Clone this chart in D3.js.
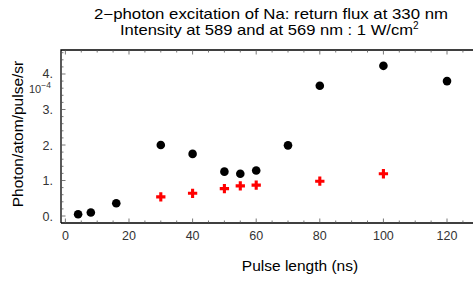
<!DOCTYPE html>
<html><head><meta charset="utf-8">
<script src="https://cdn.jsdelivr.net/npm/d3@7"></script>
<style>body{margin:0;background:#fff}svg{display:block;font-family:"Liberation Sans",Arial,sans-serif}</style>
</head><body>
<svg id="c" width="473" height="282"></svg>
<script>
// values in units of 1e-4 photon/atom/pulse/sr
const blackX = [4, 8, 16, 30, 40, 50, 55, 60, 70, 80, 100, 120];
const blackY = [0.05, 0.10, 0.36, 2.00, 1.75, 1.25, 1.19, 1.28, 1.99, 3.67, 4.23, 3.80];
const redX = [30, 40, 50, 55, 60, 80, 100];
const redY = [0.54, 0.64, 0.77, 0.85, 0.87, 0.98, 1.19];
const xTicks = [0, 20, 40, 60, 80, 100, 120];
const yTicks = [0, 1, 2, 3, 4];
const yTickLabels = ["0.", "1.", "2.", "3.", "4."];

const svg = d3.select("#c");
const L = 61, R = 475, T = 50, B = 223;
const x = d3.scaleLinear().domain([-1.38, 128.8]).range([L, R]);
const y = d3.scaleLinear().domain([-0.197, 4.676]).range([B, T]);

// frame
svg.append("path").attr("d", `M${L},${B}V${T}H${R}M${L},${B}H${R}`)
  .attr("fill","none").attr("stroke","#000").attr("stroke-width",1.3);

// x minor/major ticks (inward) bottom and top
const xMinor = d3.range(0, 126, 5);
xMinor.forEach(v => {
  const major = v % 20 === 0;
  const len = major ? 4.5 : 2.5;
  const px = x(v);
  svg.append("line").attr("x1",px).attr("x2",px).attr("y1",B).attr("y2",B-len).attr("stroke","#555").attr("stroke-width",0.8);
  svg.append("line").attr("x1",px).attr("x2",px).attr("y1",T).attr("y2",T+len).attr("stroke","#555").attr("stroke-width",0.8);
});
const yMinor = d3.range(0, 4.61, 0.2);
yMinor.forEach(v => {
  const major = Math.abs(v - Math.round(v)) < 1e-6;
  const len = major ? 4.5 : 2.5;
  const py = y(v);
  svg.append("line").attr("x1",L).attr("x2",L+len).attr("y1",py).attr("y2",py).attr("stroke","#555").attr("stroke-width",0.8);
});

// tick labels
svg.append("g").selectAll("text").data(xTicks).join("text")
  .attr("x", d => x(d)).attr("y", 240).attr("text-anchor","middle")
  .attr("font-size", 12.5).attr("fill","#333").text(d => d);
svg.append("g").selectAll("text").data(yTicks).join("text")
  .attr("x", 53).attr("y", d => y(d) + 4.5).attr("text-anchor","end")
  .attr("font-size", 12.5).attr("fill","#333").text((d,i) => yTickLabels[i]);

// multiplier 10^-4
const m = svg.append("text").attr("x", 29).attr("y", 93).attr("font-size", 11).attr("fill","#333");
m.append("tspan").text("10");
m.append("tspan").attr("dy", -5).attr("font-size", 8.5).text("\u22124");

// titles
svg.append("text").attr("x", 94).attr("y", 19).attr("font-size", 14.5)
  .attr("textLength", 354).attr("lengthAdjust","spacingAndGlyphs")
  .text("2\u2212photon excitation of Na: return flux at 330 nm");
const t2 = svg.append("text").attr("x", 120).attr("y", 35).attr("font-size", 14.5);
t2.append("tspan").attr("textLength", 293).attr("lengthAdjust","spacingAndGlyphs").text("Intensity at 589 and at 569 nm : 1 W/cm");
t2.append("tspan").attr("dy", -6).attr("font-size", 10).text("2");

svg.append("text").attr("x", 300).attr("y", 271).attr("text-anchor","middle").attr("font-size", 15.5).text("Pulse length (ns)");
svg.append("text").attr("transform","translate(23,134) rotate(-90)").attr("text-anchor","middle").attr("font-size", 15.5).text("Photon/atom/pulse/sr");

// data
svg.append("g").selectAll("circle").data(blackX.map((d,i)=>[d, blackY[i]])).join("circle")
  .attr("cx", d => x(d[0])).attr("cy", d => y(d[1])).attr("r", 4.3).attr("fill","#000");
const cross = d3.symbol().type(d3.symbolCross).size(48);
svg.append("g").selectAll("path").data(redX.map((d,i)=>[d, redY[i]])).join("path")
  .attr("d", cross).attr("transform", d => `translate(${x(d[0])},${y(d[1])})`).attr("fill","#f00");
</script>
</body></html>
